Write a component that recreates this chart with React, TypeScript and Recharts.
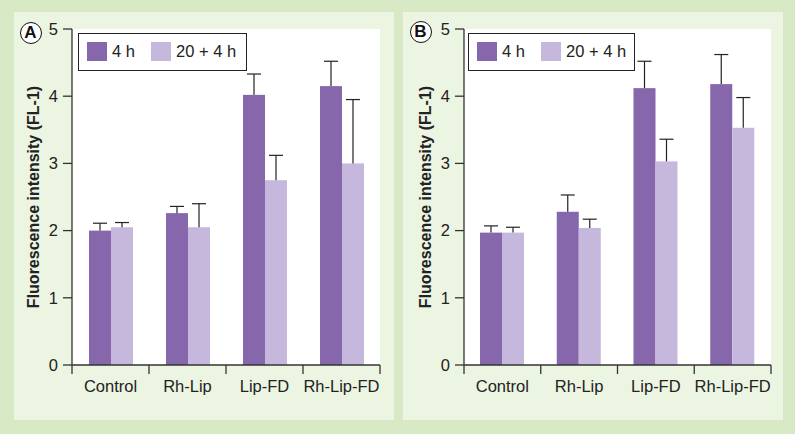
import React from 'react'
import { BarChart, Bar, XAxis, YAxis, CartesianGrid } from 'recharts'

const categories = ['Control', 'Rh-Lip', 'Lip-FD', 'Rh-Lip-FD']
const seriesNames = ['4 h', '20 + 4 h']
const yTicks = [0, 1, 2, 3, 4, 5]

// panel A
const a4h = [2.0, 2.26, 4.02, 4.15]
const a4hErr = [0.11, 0.1, 0.31, 0.37]
const a24h = [2.05, 2.05, 2.75, 3.0]
const a24hErr = [0.07, 0.35, 0.37, 0.95]

// panel B
const b4h = [1.97, 2.28, 4.12, 4.18]
const b4hErr = [0.1, 0.25, 0.4, 0.44]
const b24h = [1.97, 2.04, 3.03, 3.53]
const b24hErr = [0.08, 0.13, 0.33, 0.45]

const DARK = '#8667ac'
const LIGHT = '#c5b8dc'
const AXIS = '#333'
const TXT = '#222'
const OUTER = '#d8e9c6'
const INNER = '#ecf4e2'
const FONT = '"Liberation Sans", Arial, sans-serif'

const W = 380
const H = 408

const errShape = (valKey: string, errKey: string) => (props: any) => {
  const { x, y, width, height, fill, payload } = props
  const v = payload[valKey]
  const top = y - (height * payload[errKey]) / v
  const cx = x + width / 2
  return (
    <g>
      <rect x={x} y={y} width={width} height={height} fill={fill} />
      <line x1={cx} y1={y} x2={cx} y2={top} stroke={TXT} strokeWidth={1.2} />
      <line x1={cx - 7} y1={top} x2={cx + 7} y2={top} stroke={TXT} strokeWidth={1.2} />
    </g>
  )
}

const CatTick = (props: any) => {
  const { x, y, payload, index, band } = props
  const left = x - band / 2
  const isLast = index === categories.length - 1
  return (
    <g>
      <line x1={left} y1={y} x2={left} y2={y + 9} stroke={AXIS} strokeWidth={1.3} />
      {isLast && <line x1={x + band / 2} y1={y} x2={x + band / 2} y2={y + 9} stroke={AXIS} strokeWidth={1.3} />}
      <text x={x} y={y + 27} textAnchor="middle" fontSize={16.5} fill={TXT} fontFamily={FONT}>
        {payload.value}
      </text>
    </g>
  )
}

interface PanelProps {
  letter: string
  left: number
  v4: number[]
  e4: number[]
  v24: number[]
  e24: number[]
  yAxisW: number
  rightM: number
  titleX: number
  circle: [number, number]
  legend: [number, number, number]
}

const Panel = ({ letter, left, v4, e4, v24, e24, yAxisW, rightM, titleX, circle, legend }: PanelProps) => {
  const data = categories.map((name, i) => ({
    name,
    h4: v4[i],
    h4Err: e4[i],
    h24: v24[i],
    h24Err: e24[i]
  }))
  const band = (W - yAxisW - rightM) / categories.length
  return (
    <div style={{ position: 'absolute', left, top: 12, width: W, height: H, background: INNER }}>
      <BarChart
        width={W}
        height={H}
        data={data}
        margin={{ top: 17, right: rightM, bottom: 25, left: 0 }}
        barGap={0}
        barSize={22}
      >
        <CartesianGrid horizontal={false} vertical={false} fill="#fff" stroke="none" />
        <XAxis
          dataKey="name"
          height={30}
          tickLine={false}
          tickSize={0}
          tickMargin={0}
          axisLine={{ stroke: AXIS, strokeWidth: 1.3 }}
          tick={(p: any) => <CatTick {...p} band={band} />}
        />
        <YAxis
          domain={[0, 5]}
          ticks={yTicks}
          width={yAxisW}
          tickSize={9}
          tickMargin={5}
          stroke={AXIS}
          axisLine={{ stroke: AXIS, strokeWidth: 1.3 }}
          tickLine={{ stroke: AXIS, strokeWidth: 1.3 }}
          tick={{ fill: TXT, fontSize: 16.5, fontFamily: FONT }}
          label={(p: any) => {
            const vb = p.viewBox
            const cy = vb.y + vb.height / 2
            return (
              <text
                x={vb.x + titleX}
                y={cy}
                transform={`rotate(-90 ${vb.x + titleX} ${cy})`}
                textAnchor="middle"
                dominantBaseline="central"
                fontSize={16}
                fontWeight="bold"
                fill={TXT}
                fontFamily={FONT}
              >
                Fluorescence intensity (FL-1)
              </text>
            )
          }}
        />
        <Bar dataKey="h4" name={seriesNames[0]} fill={DARK} shape={errShape('h4', 'h4Err')} isAnimationActive={false} />
        <Bar dataKey="h24" name={seriesNames[1]} fill={LIGHT} shape={errShape('h24', 'h24Err')} isAnimationActive={false} />
      </BarChart>
      <div
        style={{
          position: 'absolute',
          left: circle[0] - 11.5,
          top: circle[1] - 11.5,
          width: 20,
          height: 20,
          borderRadius: '50%',
          border: '1.5px solid #111',
          background: '#fff',
          fontFamily: FONT,
          fontWeight: 'bold',
          fontSize: 17,
          lineHeight: '20px',
          textAlign: 'center',
          color: '#111'
        }}
      >
        {letter}
      </div>
      <div
        style={{
          position: 'absolute',
          left: legend[0],
          top: legend[1],
          width: legend[2],
          height: 36,
          border: '1px solid #222',
          background: '#fff',
          fontFamily: FONT,
          fontSize: 16.5,
          color: TXT
        }}
      >
        <div style={{ position: 'absolute', left: 8, top: 8, width: 20, height: 19, background: DARK }} />
        <div style={{ position: 'absolute', left: 33, top: 8, lineHeight: '19px' }}>{seriesNames[0]}</div>
        <div style={{ position: 'absolute', left: 72, top: 8, width: 20, height: 19, background: LIGHT }} />
        <div style={{ position: 'absolute', left: 97, top: 8, lineHeight: '19px' }}>{seriesNames[1]}</div>
      </div>
    </div>
  )
}

export default function App() {
  return (
    <div style={{ position: 'absolute', left: 0, top: 0, width: 795, height: 434, background: OUTER, overflow: 'hidden' }}>
      <Panel
        letter="A"
        left={14}
        v4={a4h}
        e4={a4hErr}
        v24={a24h}
        e24={a24hErr}
        yAxisW={58}
        rightM={14}
        titleX={19}
        circle={[17, 21]}
        legend={[64, 21, 167]}
      />
      <Panel
        letter="B"
        left={403}
        v4={b4h}
        e4={b4hErr}
        v24={b24h}
        e24={b24hErr}
        yAxisW={61}
        rightM={12}
        titleX={22}
        circle={[18, 20]}
        legend={[65, 21, 165]}
      />
    </div>
  )
}
